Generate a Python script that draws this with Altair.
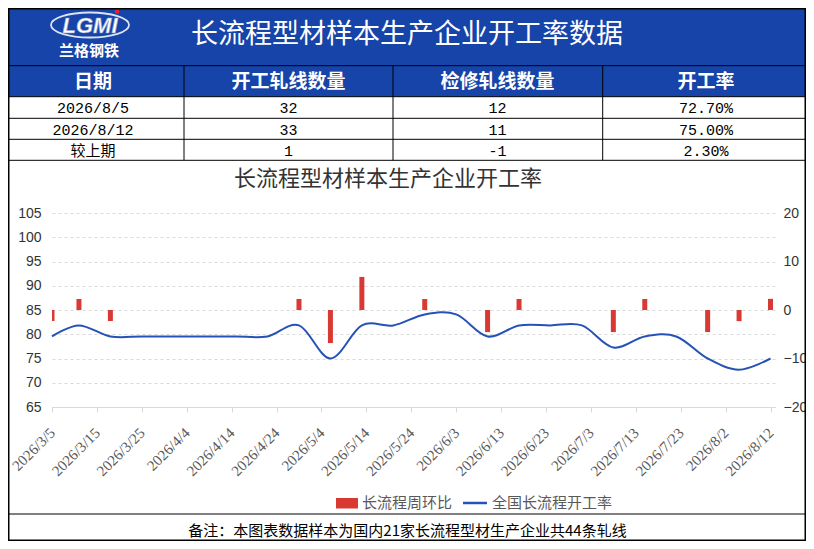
import altair as alt
import pandas as pd

# ---------------- data ----------------
dates = ["2026-03-05", "2026-03-11", "2026-03-18", "2026-03-25", "2026-04-01", "2026-04-08",
         "2026-04-15", "2026-04-22", "2026-04-29", "2026-05-06", "2026-05-13", "2026-05-20",
         "2026-05-27", "2026-06-03", "2026-06-10", "2026-06-17", "2026-06-24", "2026-07-01",
         "2026-07-08", "2026-07-15", "2026-07-22", "2026-07-29", "2026-08-05", "2026-08-12"]
rate = [79.55, 81.82, 79.55, 79.55, 79.55, 79.55, 79.55, 79.55, 81.82, 75.00, 81.82, 81.82,
        84.09, 84.09, 79.55, 81.82, 81.82, 81.82, 77.27, 79.55, 79.55, 75.00, 72.70, 75.00]
chg = [-2.27, 2.27, -2.27, 0, 0, 0, 0, 0, 2.27, -6.82, 6.82, 0,
       2.27, 0, -4.55, 2.27, 0, 0, -4.55, 2.27, 0, -4.55, -2.30, 2.30]

tick_days = [(3, 5), (3, 15), (3, 25), (4, 4), (4, 14), (4, 24), (5, 4), (5, 14), (5, 24),
             (6, 3), (6, 13), (6, 23), (7, 3), (7, 13), (7, 23), (8, 2), (8, 12)]
left_ticks = [65, 70, 75, 80, 85, 90, 95, 100, 105]
right_ticks = [-20, -10, 0, 10, 20]

tbl_head = ["日期", "开工轧线数量", "检修轧线数量", "开工率"]
tbl_date = ["2026/8/5", "2026/8/12", "较上期"]
tbl_open = [32, 33, 1]
tbl_maint = [12, 11, -1]
tbl_rate = [72.70, 75.00, 2.30]

title_main = "长流程型材样本生产企业开工率数据"
title_chart = "长流程型材样本生产企业开工率"
legend_bar = "长流程周环比"
legend_line = "全国长流程开工率"
note = "备注：本图表数据样本为国内21家长流程型材生产企业共44条轧线"
logo_en = "LGMI"
logo_cn = "兰格钢铁"

# ---------------- layout ----------------
BLUE_HDR = "#1644A8"
RED = "#D83A33"
LINE_BLUE = "#2452B6"
CJK = "Noto Sans CJK SC"

OX, OY = 52, 213          # plot origin in reference pixels
PW, PH = 723, 194         # plot size
CW, CH = 798, 533         # canvas size
PAD_L, PAD_T = OX - 8, OY - 8


def L(rx):
    return rx - OX


def T(ry):
    return ry - OY


LEFT, RIGHT, TOP, BOTTOM = -PAD_L, CW - PAD_L, -PAD_T, CH - PAD_T

one = pd.DataFrame({"k": [0]})


def rect(x1, y1, x2, y2, color):
    return alt.Chart(one).mark_rect(color=color).encode(
        x=alt.value(x1), x2=alt.value(x2), y=alt.value(y1), y2=alt.value(y2))


def hline(x1, x2, y, color="black", w=1.0):
    return alt.Chart(one).mark_rule(color=color, strokeWidth=w).encode(
        x=alt.value(x1), x2=alt.value(x2), y=alt.value(y))


def vline(x, y1, y2, color="black", w=1.0):
    return alt.Chart(one).mark_rule(color=color, strokeWidth=w).encode(
        x=alt.value(x), y=alt.value(y1), y2=alt.value(y2))


def text(t, x, y, size, color="black", font=CJK, weight="normal", align="center", **kw):
    return alt.Chart(pd.DataFrame({"t": [str(t)]})).mark_text(
        fontSize=size, color=color, font=font, fontWeight=weight, align=align,
        baseline="middle", **kw).encode(x=alt.value(x), y=alt.value(y), text="t:N")


layers = []
# header band + table header
layers.append(rect(LEFT, TOP, RIGHT, T(96.7), BLUE_HDR))
# logo
ell = "M-1,0A1,0.32,0,1,1,1,0A1,0.32,0,1,1,-1,0Z"
layers.append(alt.Chart(one).mark_point(shape=ell, size=78 * 78, filled=False, stroke="white",
                                        strokeWidth=1.8, opacity=0.85).encode(
    x=alt.value(L(90)), y=alt.value(T(25))))
layers.append(text(logo_en, L(90), T(25.5), 22, color="white", font="Liberation Sans",
                   weight="bold", fontStyle="italic", stroke="#8fa0c8", strokeWidth=0.6))
layers.append(alt.Chart(one).mark_point(shape="circle", size=22, filled=True, color="#e8242a",
                                        opacity=1).encode(
    x=alt.value(L(117)), y=alt.value(T(11.5))))
layers.append(text(logo_cn, L(89), T(50.5), 15, color="white", weight="bold"))
layers.append(text(title_main, L(407), T(35), 27, color="white"))

# table
col_c = [L(93), L(288.5), L(497.5), L(706)]
row_y = [T(108.3), T(129.7), T(150.8)]
for i, h in enumerate(tbl_head):
    layers.append(text(h, col_c[i], T(81.5), 19, color="white", weight="bold"))
for r in range(3):
    vals = [tbl_date[r], tbl_open[r], tbl_maint[r], f"{tbl_rate[r]:.2f}%"]
    for c, v in enumerate(vals):
        layers.append(text(v, col_c[c], row_y[r], 15, color="black",
                           font="Liberation Mono, " + CJK))
for yy in [65.7, 96.7, 118.3, 139.3, 160.3, 514]:
    layers.append(hline(LEFT, RIGHT, T(yy)))
for xx in [184, 393, 602.7]:
    layers.append(vline(L(xx), T(65.7), T(160.3)))

# chart title
layers.append(text(title_chart, L(388), T(179), 22, color="#333333"))

# ---------------- main chart ----------------
df = pd.DataFrame({"date": dates, "rate": rate, "chg": chg})
x_enc = alt.X(
    "date:T",
    title=None,
    scale=alt.Scale(type="utc", padding=0,
                    domain=[alt.DateTime(year=2026, month=3, date=5, utc=True),
                            alt.DateTime(year=2026, month=8, date=13, utc=True)]),
    axis=alt.Axis(
        values=[alt.DateTime(year=2026, month=m, date=d, utc=True) for m, d in tick_days],
        format="%Y/%-m/%-d", labelAngle=-45, labelAlign="right", labelBaseline="middle",
        labelFont="Liberation Serif", labelFontSize=15, labelColor="#595959",
        labelPadding=18, tickSize=5, tickColor="#d9d9d9", domainColor="#d9d9d9",
        grid=False, labelOverlap=False, labelBound=False, labelFlush=False),
)

bars = alt.Chart(df).mark_bar(color=RED, size=5, clip=True).encode(
    x=x_enc,
    y=alt.Y("chg:Q", title=None, scale=alt.Scale(domain=[-20, 20], nice=False),
            axis=alt.Axis(orient="right", values=right_ticks, grid=False, domain=False,
                          ticks=False, labelPadding=8, labelAlign="left",
                          labelFont="Liberation Sans", labelFontSize=14,
                          labelColor="#333333")),
)

line = alt.Chart(df).mark_line(color=LINE_BLUE, strokeWidth=2, interpolate="cardinal").encode(
    x=x_enc,
    y=alt.Y("rate:Q", title=None, scale=alt.Scale(domain=[65, 105], nice=False, zero=False),
            axis=alt.Axis(orient="left", values=left_ticks, grid=True, gridDash=[3, 3],
                          gridColor="#d9d9d9", domain=False, ticks=False, labelPadding=11,
                          labelFont="Liberation Sans", labelFontSize=14,
                          labelColor="#333333")),
)

layers.append(bars)
layers.append(line)

# legend
layers.append(rect(L(336), T(498), L(358), T(508.5), RED))
layers.append(text(legend_bar, L(362), T(503), 15, color="#595959", align="left"))
layers.append(hline(L(463), L(487), T(503), color=LINE_BLUE, w=2.5))
layers.append(text(legend_line, L(492), T(503), 15, color="#595959", align="left"))

# footer
layers.append(text(note, L(407.5), T(531), 15, color="black"))

# outer border
layers.append(alt.Chart(one).mark_rect(fillOpacity=0, stroke="black", strokeWidth=1.5).encode(
    x=alt.value(LEFT + 0.75), x2=alt.value(RIGHT - 0.75),
    y=alt.value(TOP + 0.75), y2=alt.value(BOTTOM - 0.75)))

chart = alt.layer(*layers).resolve_scale(y="independent").properties(
    width=PW, height=PH,
    padding={"left": PAD_L, "top": PAD_T, "right": CW - PAD_L - PW, "bottom": CH - PAD_T - PH},
    autosize=alt.AutoSizeParams(type="none"),
    background="white",
).configure_view(stroke=None)

chart.save("out.html", embed_options={"renderer": "svg", "actions": False})
